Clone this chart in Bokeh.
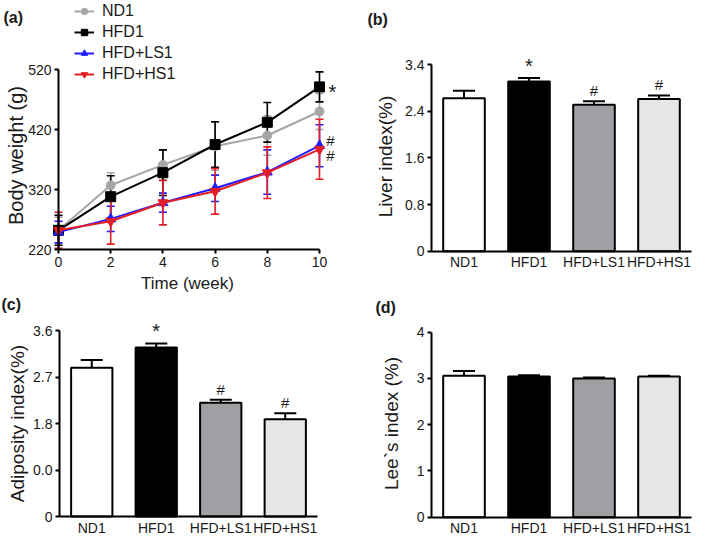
import math
from bokeh.plotting import figure
from bokeh.models import (ColumnDataSource, Whisker, TeeHead, Legend, LegendItem,
                          Label, FixedTicker, Range1d)
from bokeh.layouts import column, row
from bokeh.embed import file_html
from bokeh.resources import INLINE

# ---------------- data ----------------
weeks = [0, 2, 4, 6, 8, 10]
nd1 = [252, 327, 361, 392, 410, 450]
nd1_err = [22, 21, 25, 40, 33, 30]
hfd1 = [252, 308, 348, 395, 432, 491]
hfd1_err = [25, 35, 38, 38, 33, 25]
ls1 = [249, 271, 298, 322, 349, 393]
ls1_err = [18, 21, 16, 22, 37, 35]
hs1 = [252, 267, 298, 317, 348, 387]
hs1_err = [30, 38, 37, 38, 43, 50]
series_names = ["ND1", "HFD1", "HFD+LS1", "HFD+HS1"]
week_ticks = [0, 2, 4, 6, 8, 10]
bw_ticks = [220, 320, 420, 520]
week10_sig = ["*", "#", "#"]          # HFD1, HFD+LS1, HFD+HS1

groups = ["ND1", "HFD1", "HFD+LS1", "HFD+HS1"]
liver = [2.62, 2.91, 2.51, 2.61]
liver_err = [0.13, 0.06, 0.06, 0.06]
liver_sig = ["", "*", "#", "#"]
liver_ticks = [0, 0.8, 1.6, 2.4, 3.2]
liver_tick_labels = ["0", "0.8", "1.6", "2.4", "3.4"]

adip = [2.88, 3.27, 2.20, 1.88]
adip_err = [0.15, 0.08, 0.06, 0.12]
adip_sig = ["", "*", "#", "#"]
adip_ticks = [0, 0.9, 1.8, 2.7, 3.6]
adip_tick_labels = ["0", "0.0", "1.8", "2.7", "3.6"]

lee = [3.06, 3.04, 3.00, 3.04]
lee_err = [0.10, 0.03, 0.02, 0.02]
lee_sig = ["", "", "", ""]
lee_ticks = [0, 1, 2, 3, 4]
lee_tick_labels = ["0", "1", "2", "3", "4"]

# ---------------- styling ----------------
FONT = "Liberation Sans"
TXT = "#1a1a1a"
line_colors = ["#a6a6a6", "#000000", "#1f1fff", "#e31e24"]
markers = ["circle", "square", "triangle", "inverted_triangle"]
marker_sizes = [9, 10, 10, 10]
bar_fills = ["#ffffff", "#000000", "#a0a0a4", "#e6e6e6"]

ROW1_H = 294
ROW2_H = 241


class Geo:
    """Figure placed at (left, top) with size w x h; the frame fills the
    whole figure; data->pixel mapping given by two anchor pairs per axis."""
    def __init__(s, left, top, w, h, xa, xb, ya, yb):
        s.left, s.top, s.w, s.h = left, top, w, h
        (x0, px0), (x1, px1) = xa, xb
        (y0, py0), (y1, py1) = ya, yb
        s.kx = (x1 - x0) / (px1 - px0)
        s.ky = (y1 - y0) / (py0 - py1)
        s.x0, s.px0, s.y0, s.py0 = x0, px0, y0, py0
        s.xr = (s.dx(left), s.dx(left + w))
        s.yr = (s.dy(top + h), s.dy(top))

    def dx(s, px):
        return s.x0 + (px - s.px0) * s.kx

    def dy(s, py):
        return s.y0 + (s.py0 - py) * s.ky


def make_fig(g):
    p = figure(width=g.w, height=g.h, x_range=Range1d(*g.xr), y_range=Range1d(*g.yr),
               output_backend="svg", toolbar_location=None, title=None,
               min_border=0)
    p.xgrid.visible = False
    p.ygrid.visible = False
    p.outline_line_color = None
    p.background_fill_color = "white"
    p.border_fill_color = "white"
    for ax in (p.xaxis[0], p.yaxis[0]):
        ax.axis_line_width = 2
        ax.axis_line_color = "black"
        ax.major_tick_line_width = 2
        ax.major_tick_line_color = "black"
        ax.minor_tick_line_color = None
        ax.major_tick_in = 0
        ax.major_tick_out = 4
        ax.major_label_text_font = FONT
        ax.major_label_text_font_size = "14px"
        ax.major_label_text_color = TXT
        ax.major_label_standoff = 3
    return p


def add_text(p, g, px, py, text, size, bold=False, angle=0.0, align="center", baseline="middle"):
    p.add_layout(Label(x=g.dx(px), y=g.dy(py), text=text, angle=angle,
                       text_font=FONT, text_font_size=size,
                       text_font_style="bold" if bold else "normal",
                       text_align=align, text_baseline=baseline, text_color=TXT))


# ---------------- panel (a) ----------------
ga = Geo(0, 0, 352, ROW1_H, (0, 58), (10, 319), (220, 249), (520, 69))
pa = make_fig(ga)
pa.xaxis.ticker = FixedTicker(ticks=week_ticks)
pa.yaxis.ticker = FixedTicker(ticks=bw_ticks)
pa.xaxis.bounds = (week_ticks[0], week_ticks[-1])
pa.yaxis.bounds = (bw_ticks[0], bw_ticks[-1])
pa.xaxis.fixed_location = bw_ticks[0]
pa.yaxis.fixed_location = week_ticks[0]

all_vals = [nd1, hfd1, ls1, hs1]
all_errs = [nd1_err, hfd1_err, ls1_err, hs1_err]
items = []
for name, vals, errs, c, m, ms in zip(series_names, all_vals, all_errs, line_colors, markers, marker_sizes):
    src = ColumnDataSource(dict(x=weeks, y=vals,
                                lo=[v - e for v, e in zip(vals, errs)],
                                hi=[v + e for v, e in zip(vals, errs)]))
    pa.add_layout(Whisker(source=src, base="x", lower="lo", upper="hi",
                          line_color=c, line_width=1.6,
                          upper_head=TeeHead(size=8, line_color=c, line_width=1.6),
                          lower_head=TeeHead(size=8, line_color=c, line_width=1.6)))
    lr = pa.line("x", "y", source=src, line_color=c, line_width=2)
    sr = pa.scatter("x", "y", source=src, marker=m, size=ms, fill_color=c, line_color=c)
    items.append(LegendItem(label=name, renderers=[lr, sr]))

legend = Legend(items=items, location=(74, ROW1_H - 83), orientation="vertical",
                padding=0, margin=0, spacing=3, glyph_width=20, glyph_height=16,
                label_height=16, label_standoff=8, label_text_font=FONT,
                label_text_font_size="16px", label_text_color=TXT,
                border_line_alpha=0, background_fill_alpha=0)
pa.add_layout(legend)

sig_vals = [hfd1[-1], ls1[-1], hs1[-1]]
sig_yoff = [-5, 5, -6]
sig_xoff = [13, 11, 11]
sig_size = ["20px", "15px", "15px"]
for t, v, yo, xo, fs in zip(week10_sig, sig_vals, sig_yoff, sig_xoff, sig_size):
    pa.add_layout(Label(x=weeks[-1], y=v, text=t, x_offset=xo, y_offset=yo,
                        text_font=FONT, text_font_size=fs, text_align="center",
                        text_baseline="middle", text_color=TXT))

add_text(pa, ga, 3, 17, "(a)", "16px", bold=True, align="left")
add_text(pa, ga, 15, 155, "Body weight (g)", "20px", angle=math.pi / 2)
add_text(pa, ga, 187, 283, "Time (week)", "17px")


# ---------------- bar panels ----------------
def bar_panel(g, vals, errs, sigs, ticks, tick_labels, ylabel, tag, tagpos, ylabpos):
    p = make_fig(g)
    xs = list(range(len(groups)))
    p.xaxis.ticker = FixedTicker(ticks=xs)
    p.xaxis.major_label_overrides = {i: grp for i, grp in zip(xs, groups)}
    p.xaxis.major_tick_out = 0
    p.xaxis.major_label_standoff = 3
    p.xaxis.bounds = (-0.5, len(groups) - 0.5)
    p.xaxis.fixed_location = 0
    p.yaxis.ticker = FixedTicker(ticks=ticks)
    p.yaxis.major_label_overrides = {t: lab for t, lab in zip(ticks, tick_labels)}
    p.yaxis.bounds = (ticks[0], ticks[-1])
    p.yaxis.fixed_location = -0.5
    src = ColumnDataSource(dict(x=xs, top=vals, fill=bar_fills,
                                hi=[v + e for v, e in zip(vals, errs)]))
    p.add_layout(Whisker(source=src, base="x", lower="top", upper="hi",
                         line_color="black", line_width=2,
                         upper_head=TeeHead(size=22, line_color="black", line_width=2),
                         lower_head=None))
    p.vbar(x="x", top="top", bottom=0, width=0.64, source=src,
           fill_color="fill", line_color="black", line_width=2)
    for x, h, s in zip(xs, src.data["hi"], sigs):
        if s == "*":
            p.add_layout(Label(x=x, y=h, text=s, y_offset=12, text_font=FONT,
                               text_font_size="20px", text_align="center",
                               text_baseline="middle", text_color=TXT))
        elif s:
            p.add_layout(Label(x=x, y=h, text=s, y_offset=2, text_font=FONT,
                               text_font_size="15px", text_align="center",
                               text_baseline="bottom", text_color=TXT))
    add_text(p, g, tagpos[0], tagpos[1], tag, "16px", bold=True, align="left")
    add_text(p, g, ylabpos[0], ylabpos[1], ylabel, "19px", angle=math.pi / 2)
    return p


gb = Geo(352, 0, 355, ROW1_H, (-0.5, 431), (3.5, 691), (0, 250.7), (3.2, 64))
pb = bar_panel(gb, liver, liver_err, liver_sig, liver_ticks, liver_tick_labels,
               "Liver index(%)", "(b)", (367, 19), (385, 156))

gc = Geo(0, ROW1_H, 352, ROW2_H, (-0.5, 59), (3.5, 317), (0, 516), (3.6, 330))
pc = bar_panel(gc, adip, adip_err, adip_sig, adip_ticks, adip_tick_labels,
               "Adiposity index(%)", "(c)", (1, 304), (17, 423))

gd = Geo(352, ROW1_H, 355, ROW2_H, (-0.5, 431), (3.5, 691), (0, 516.7), (4, 331.7))
pd_ = bar_panel(gd, lee, lee_err, lee_sig, lee_ticks, lee_tick_labels,
                "Lee`s index (%)", "(d)", (375, 307), (391, 423))

layout = column(row(pa, pb), row(pc, pd_))
open("out.html", "w").write(file_html(layout, INLINE))
